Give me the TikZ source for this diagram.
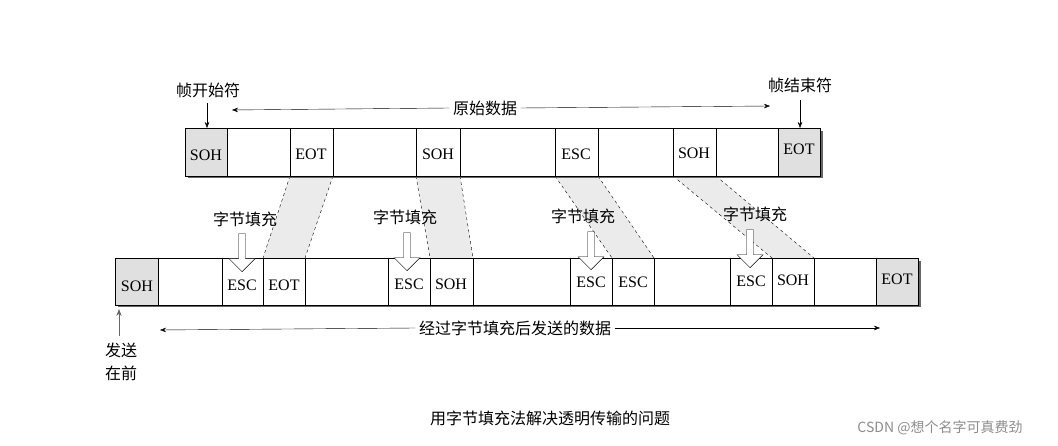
\documentclass[tikz,border=0pt]{standalone}
\usepackage{fontspec}
\setmainfont{Liberation Serif}
\newfontfamily\cjk{Noto Sans CJK SC}
\usetikzlibrary{arrows.meta,shapes.arrows}
\begin{document}
\begin{tikzpicture}[x=1pt,y=-1pt,
  lbl/.style={font=\fontsize{16}{16}\selectfont},
  zh/.style={font=\cjk\fontsize{16}{16}\selectfont},
  band/.style={fill=black!8,draw=none},
  dsh/.style={dashed,thin},
  openarrow/.style={single arrow,draw,fill=white,shape border rotate=270,minimum height=38pt,minimum width=26pt,single arrow head extend=6pt,inner sep=2pt,anchor=tip},
  ar/.style={-{Stealth[length=6pt]},thin}]
\useasboundingbox (0,0) rectangle (1058,446);
% shaded bands
\fill[band] (290,176)--(333,176)--(305,258)--(263,258)--cycle;
\fill[band] (416,176)--(460,176)--(473,258)--(430,258)--cycle;
\fill[band] (555,176)--(598,176)--(654,258)--(612,258)--cycle;
\fill[band] (673,176)--(716,176)--(814,258)--(772,258)--cycle;
\draw[dsh] (290,176)--(263,258) (333,176)--(305,258);
\draw[dsh] (416,176)--(430,258) (460,176)--(473,258);
\draw[dsh] (555,176)--(612,258) (598,176)--(654,258);
\draw[dsh] (673,176)--(772,258) (716,176)--(814,258);
% top frame
\fill[black!60] (188,176) rectangle (823,178);
\fill[black!60] (820,131) rectangle (823,178);
\fill[black!12] (185,128) rectangle (227,176);
\fill[black!12] (778,128) rectangle (820,176);
\draw (185,128) rectangle (820,176);
\foreach \x in {227,290,333,416,460,555,598,673,716,778} \draw (\x,128)--(\x,176);
\node[lbl] (t1) at (206,155) {SOH};
\node[lbl] (t2) at (311,154) {EOT};
\node[lbl] (t3) at (438,154) {SOH};
\node[lbl] (t4) at (576,154) {ESC};
\node[lbl] (t5) at (694,153) {SOH};
\node[lbl] (t6) at (799,149) {EOT};
% bottom frame
\fill[black!60] (118,305) rectangle (921,307);
\fill[black!60] (918,261) rectangle (921,307);
\fill[black!12] (115,258) rectangle (158,305);
\fill[black!12] (876,258) rectangle (918,305);
\draw (115,258) rectangle (918,305);
\foreach \x in {158,222,263,305,388,430,473,570,612,654,730,772,814,876} \draw (\x,258)--(\x,305);
\node[lbl] (b1) at (137,286) {SOH};
\node[lbl] (b2) at (242,285) {ESC};
\node[lbl] (b3) at (284,285) {EOT};
\node[lbl] (b4) at (409,284) {ESC};
\node[lbl] (b5) at (451,284) {SOH};
\node[lbl] (b6) at (591,282) {ESC};
\node[lbl] (b7) at (633,282) {ESC};
\node[lbl] (b8) at (751,281) {ESC};
\node[lbl] (b9) at (793,280) {SOH};
\node[lbl] (b10) at (897,279) {EOT};
% stuffing labels and arrows
\foreach \n/\x/\y in {s1/245/219,s2/405/217,s3/583/216,s4/755/214}{
  \node[zh] (\n) at (\x,\y) {字节填充};
}
\coordinate (a1) at (242,272); \coordinate (a2) at (407,271);
\coordinate (a3) at (591,270); \coordinate (a4) at (750,268);
\foreach \a in {a1,a2,a3,a4} \node[openarrow] at (\a) {};
% top labels
\node[zh] (fs) at (208,90) {帧开始符};
\node[zh] (fe) at (800,85) {帧结束符};
\coordinate (fsb) at (207,128); \coordinate (feb) at (800,128);
\draw[ar] (207,103)--(fsb);
\draw[ar] (800,100)--(feb);
\node[zh,fill=white] (ys) at (485,108) {原始数据};
\coordinate (ysl) at (232,110); \coordinate (ysr) at (770,106);
\draw[ar] (ys.west)--(ysl);
\draw[ar] (ys.east)--(ysr);
% bottom labels
\node[zh] (fq) at (121,350) {发送};
\node[zh] (zq) at (121,373) {在前};
\coordinate (up) at (119,309);
\draw[-{Stealth[length=7pt]},thick,black!60] (119,336)--(up);
\node[zh] (jg) at (515,328) {经过字节填充后发送的数据};
\coordinate (jgl) at (160,330); \coordinate (jgr) at (880,328);
\draw[ar] (jg.west)--(jgl);
\draw[ar] (jg.east)--(jgr);
\node[zh] (cap) at (550,418) {用字节填充法解决透明传输的问题};
\node[font=\cjk\fontsize{14}{14}\selectfont,text=black!45] (wm) at (940,428) {CSDN @想个名字可真费劲};
\end{tikzpicture}
\end{document}
